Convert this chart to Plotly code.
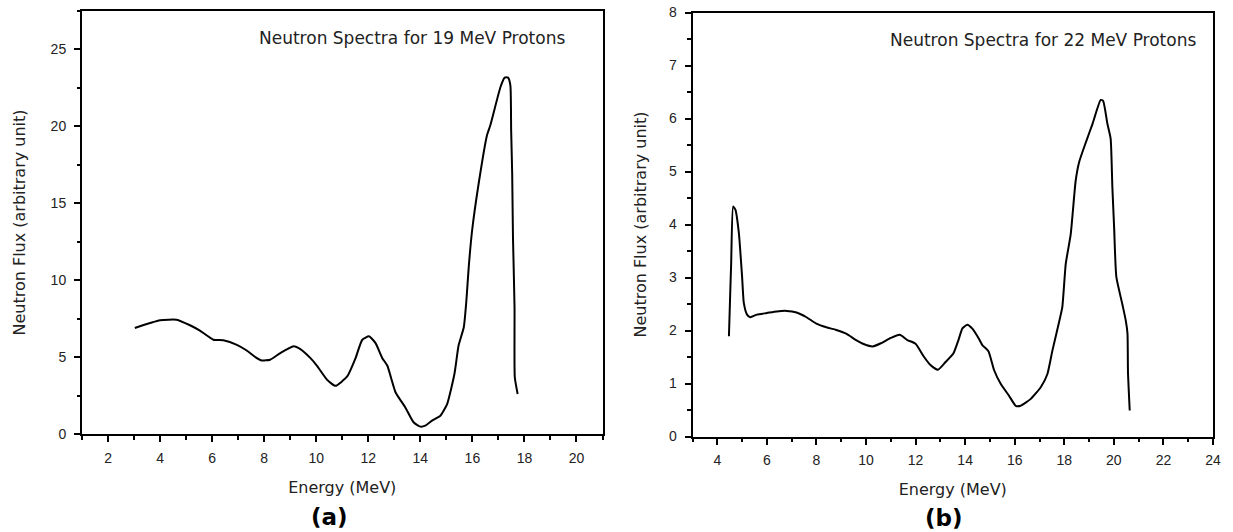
import plotly.graph_objects as go
from plotly.subplots import make_subplots

# Panel (a): 19 MeV protons
energy_19 = [3.03, 4.0, 4.63, 5.15, 5.53, 6.05, 6.43, 6.95, 7.33, 7.66, 7.91, 8.23, 8.62, 9.13, 9.39,
             9.78, 10.03, 10.42, 10.74, 11.19, 11.51, 11.77, 12.03, 12.28, 12.54, 12.73, 13.05, 13.42,
             13.74, 14.0, 14.19, 14.45, 14.77, 15.03, 15.31, 15.47, 15.67, 15.77, 15.86, 15.99, 16.24,
             16.56, 16.69, 17.08, 17.24, 17.37, 17.46, 17.49, 17.53, 17.56, 17.62, 17.63, 17.74]
flux_19 = [6.89, 7.39, 7.43, 7.07, 6.72, 6.13, 6.09, 5.80, 5.43, 5.0, 4.78, 4.83, 5.26, 5.70, 5.52,
           4.93, 4.43, 3.52, 3.13, 3.74, 4.93, 6.13, 6.35, 5.91, 4.93, 4.45, 2.7, 1.74,
           0.76, 0.48, 0.54, 0.87, 1.19, 1.95, 3.90, 5.75, 6.94, 8.68, 10.85, 13.23, 16.27,
           19.41, 20.07, 22.56, 23.17, 23.17, 22.67, 19.74, 16.92, 12.80, 8.24, 3.69, 2.60]

# Panel (b): 22 MeV protons
energy_22 = [4.47, 4.51, 4.56, 4.64, 4.73, 4.87, 5.0, 5.07, 5.2, 5.33, 5.6, 6.0, 6.4, 6.8, 7.2,
             7.6, 8.0, 8.4, 8.8, 9.2, 9.6, 9.93, 10.27, 10.6, 11.0, 11.36, 11.67, 12.0, 12.33, 12.6,
             12.9, 13.2, 13.53, 13.73, 13.89, 14.09, 14.30, 14.56, 14.70, 14.94, 15.17, 15.44, 15.77,
             16.04, 16.24, 16.65, 17.05, 17.32, 17.52, 17.79, 17.92, 18.06, 18.26, 18.46, 18.60,
             18.87, 19.14, 19.47, 19.57, 19.74, 19.87, 19.94, 20.01, 20.10, 20.34, 20.48, 20.55,
             20.57, 20.64]
flux_22 = [1.89, 2.52, 3.27, 4.34, 4.28, 3.84, 3.02, 2.52, 2.30, 2.25, 2.30, 2.33, 2.36, 2.37, 2.34,
           2.25, 2.13, 2.06, 2.01, 1.94, 1.82, 1.74, 1.70, 1.76, 1.86, 1.92, 1.82, 1.75, 1.51, 1.35,
           1.26, 1.40, 1.57, 1.82, 2.04, 2.11, 2.03, 1.84, 1.72, 1.61, 1.25, 0.99, 0.77,
           0.58, 0.58, 0.71, 0.93, 1.18, 1.62, 2.16, 2.44, 3.26, 3.82, 4.83, 5.18,
           5.55, 5.90, 6.35, 6.33, 5.90, 5.62, 4.70, 3.95, 3.01, 2.50, 2.19, 1.94,
           1.21, 0.49]

panel_titles = ["Neutron Spectra for 19 MeV Protons", "Neutron Spectra for 22 MeV Protons"]
panel_labels = ["(a)", "(b)"]
x_title = "Energy (MeV)"
y_title = "Neutron Flux (arbitrary unit)"

W, H = 1233, 532
fig = make_subplots(rows=1, cols=2)

line = dict(color="black", width=2, shape="spline", smoothing=0.5)
fig.add_trace(go.Scatter(x=energy_19, y=flux_19, mode="lines", line=line, showlegend=False), row=1, col=1)
fig.add_trace(go.Scatter(x=energy_22, y=flux_22, mode="lines", line=line, showlegend=False), row=1, col=2)

tickfont = dict(family="Liberation Sans, Arial, sans-serif", size=14, color="#222")
titlefont = dict(family="DejaVu Sans, sans-serif", size=16, color="#222")

def ax_common():
    return dict(showline=True, linecolor="black", linewidth=2, mirror=True,
                ticks="outside", ticklen=6, tickwidth=1.5, tickcolor="black", automargin=False,
                showgrid=False, zeroline=False, tickfont=tickfont, title_font=titlefont)

fig.update_xaxes(**ax_common(), ticklabelstandoff=4)
fig.update_yaxes(**ax_common(), ticklabelstandoff=5)

minor_style = dict(ticks="outside", ticklen=3.5, tickwidth=1.5, tickcolor="black")

fig.update_layout(
    xaxis=dict(domain=[82 / W, 602.5 / W], range=[1, 21], tick0=0, dtick=2,
               minor=dict(dtick=1, **minor_style),
               title=dict(text=x_title, standoff=17)),
    yaxis=dict(domain=[1 - 434 / H, 1 - 11 / H], range=[0, 27.5], tick0=0, dtick=5,
               minor=dict(dtick=2.5, **minor_style),
               title=dict(text=y_title, standoff=21)),
    xaxis2=dict(domain=[692.5 / W, 1213 / W], range=[3, 24], tick0=0, dtick=2,
                minor=dict(dtick=1, **minor_style),
                title=dict(text=x_title, standoff=17)),
    yaxis2=dict(domain=[1 - 436.5 / H, 1 - 12.5 / H], range=[0, 8], tick0=0, dtick=1,
                minor=dict(dtick=0.5, **minor_style),
                title=dict(text=y_title, standoff=18)),
    width=W, height=H, autosize=False,
    margin=dict(l=0, r=0, t=0, b=0),
    paper_bgcolor="white", plot_bgcolor="white",
)

fig.add_annotation(text=panel_titles[0], xref="paper", yref="paper", x=412 / W, y=1 - 38 / H,
                   showarrow=False, xanchor="center", yanchor="middle",
                   font=dict(family="DejaVu Sans, sans-serif", size=17, color="#222"))
fig.add_annotation(text=panel_titles[1], xref="paper", yref="paper", x=1043 / W, y=1 - 40 / H,
                   showarrow=False, xanchor="center", yanchor="middle",
                   font=dict(family="DejaVu Sans, sans-serif", size=17, color="#222"))
fig.add_annotation(text="<b>" + panel_labels[0] + "</b>", xref="paper", yref="paper", x=329 / W, y=1 - 517 / H,
                   showarrow=False, xanchor="center", yanchor="middle",
                   font=dict(family="DejaVu Sans, sans-serif", size=23, color="black"))
fig.add_annotation(text="<b>" + panel_labels[1] + "</b>", xref="paper", yref="paper", x=944 / W, y=1 - 518 / H,
                   showarrow=False, xanchor="center", yanchor="middle",
                   font=dict(family="DejaVu Sans, sans-serif", size=23, color="black"))

fig.write_html("out.html", config={"displayModeBar": False},
               post_script="document.body.style.margin='0';document.body.style.overflow='hidden';")
